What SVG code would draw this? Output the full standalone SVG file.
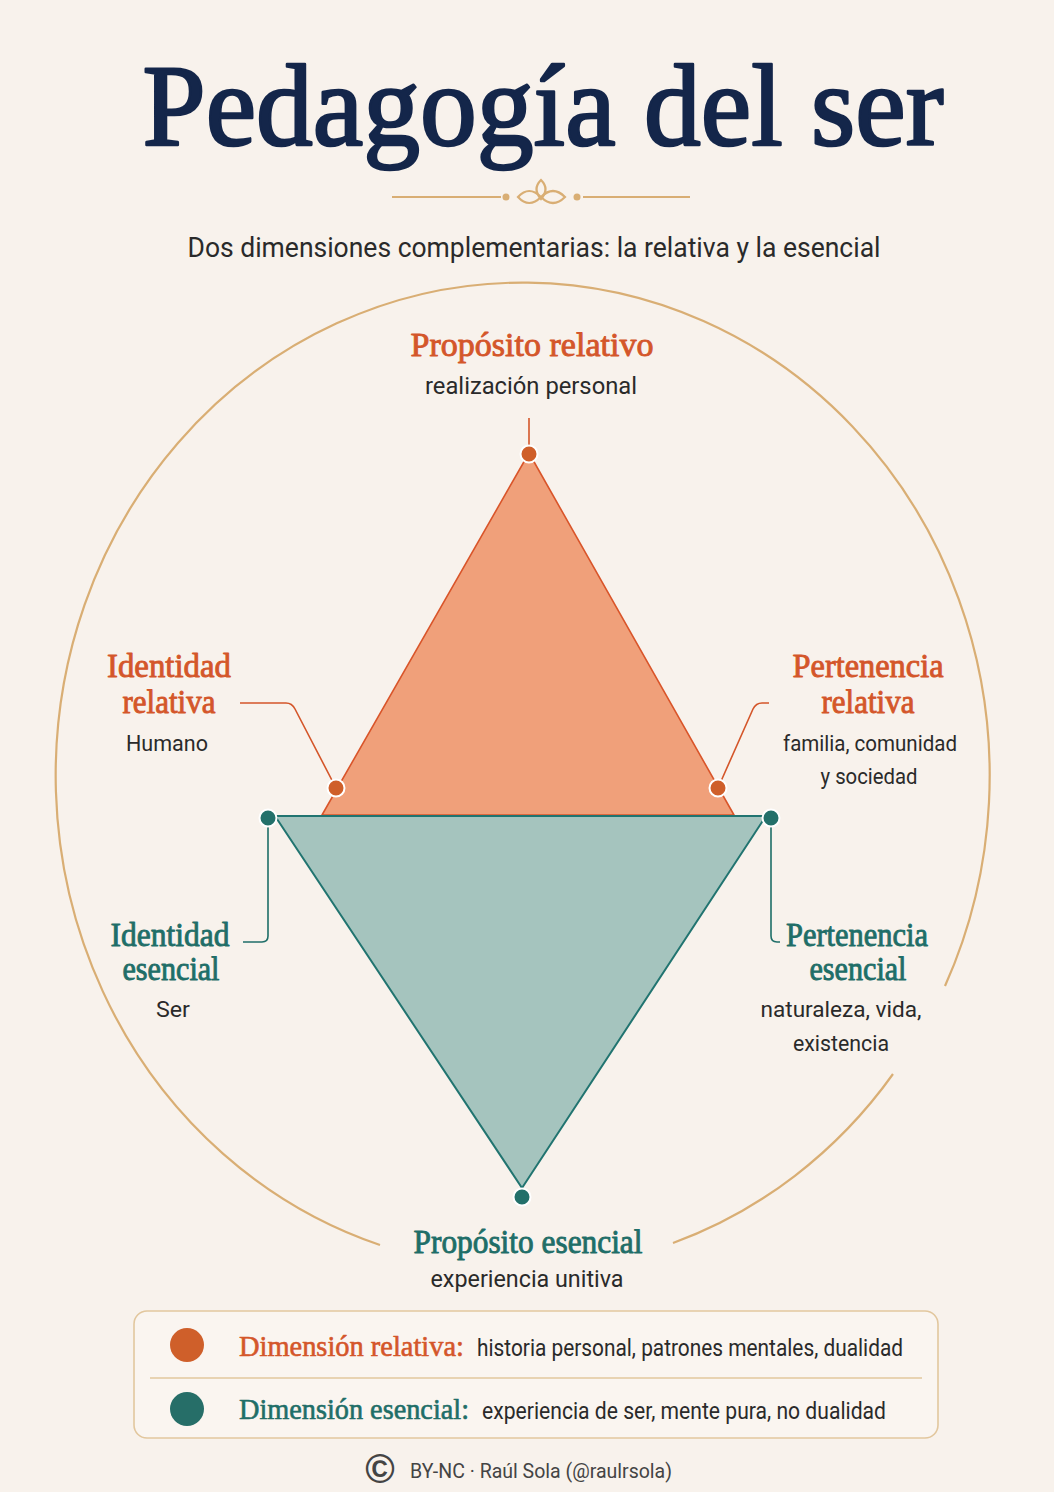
<svg xmlns="http://www.w3.org/2000/svg" width="1054" height="1492" viewBox="0 0 1054 1492">
<style>
.ser{font-family:"Liberation Serif","DejaVu Serif",serif;font-weight:normal;stroke-width:0.9;stroke-linejoin:round;}
.sans{font-family:Roboto,"Liberation Sans",sans-serif;fill:#2a2a2a;}
.o{fill:#D4562A;stroke:#D4562A;}
.t{fill:#1F6E68;stroke:#1F6E68;}
.lo{fill:none;stroke:#D4562A;stroke-width:1.6;}
.lt{fill:none;stroke:#1F6E68;stroke-width:1.6;}
.gold{fill:none;stroke:#D9AE74;stroke-width:2.2;}
.dotO{fill:#CF5F2A;stroke:#fff;stroke-width:2;}
.dotT{fill:#23706A;stroke:#fff;stroke-width:2;}
</style>
<rect x="0" y="0" width="1054" height="1492" fill="#F8F2EC"/>

<g id="title">
<text x="543" y="145" text-anchor="middle" class="ser" font-size="116" fill="#14264A" stroke="#14264A" style="stroke-width:2.6" textLength="801" lengthAdjust="spacingAndGlyphs">Pedagogía del ser</text>
<g id="ornament">
<line x1="392" y1="197" x2="501" y2="197" class="gold"/>
<line x1="583" y1="197" x2="690" y2="197" class="gold"/>
<circle cx="506" cy="197" r="3.5" fill="#D9AE74"/>
<circle cx="577" cy="197" r="3.5" fill="#D9AE74"/>
<path d="M518,197 Q529,185 541,197 Q529,209 518,197 Z" class="gold" stroke-width="1.8"/>
<path d="M541,197 Q553,185 565,197 Q553,209 541,197 Z" class="gold" stroke-width="1.8"/>
<path d="M541,180 Q550,189 541,199 Q532,189 541,180 Z" class="gold" stroke-width="1.8"/>
</g>
<text x="534" y="257" text-anchor="middle" class="sans" font-size="28" textLength="693" lengthAdjust="spacingAndGlyphs">Dos dimensiones complementarias: la relativa y la esencial</text>
</g>

<g id="frame">
<path d="M380,1245 A467,493 0 1 1 945,986" class="gold"/>
<path d="M893,1074 A467,493 0 0 1 673,1243" class="gold"/>
</g>

<g id="triangles">
<path d="M529,453 L322,815 L734,815 Z" fill="#F0A07A" stroke="#D9552A" stroke-width="1.6" stroke-linejoin="round"/>
<path d="M275,816 L766,816 L522,1188 Z" fill="#A5C4BE" stroke="#217470" stroke-width="2" stroke-linejoin="round"/>
</g>

<g id="connectors">
<line x1="529" y1="418" x2="529" y2="446" class="lo"/>
<path d="M240,703 L286,703 Q292,703 295,709 L336,788" class="lo"/>
<path d="M769,703 L762,703 Q756,703 753,709 L718,788" class="lo"/>
<path d="M268,818 L268,936 Q268,942 262,942 L243,942" class="lt"/>
<path d="M771,818 L771,936 Q771,942 777,942 L780,942" class="lt"/>
</g>

<g id="dots">
<circle cx="529" cy="454" r="8.5" class="dotO"/>
<circle cx="336" cy="788" r="8.5" class="dotO"/>
<circle cx="718" cy="788" r="8.5" class="dotO"/>
<circle cx="268" cy="818" r="8.5" class="dotT"/>
<circle cx="771" cy="818" r="8.5" class="dotT"/>
<circle cx="522" cy="1197" r="8.5" class="dotT"/>
</g>

<g id="node-proposito-relativo">
<text x="532" y="356" text-anchor="middle" class="ser o" font-size="34" textLength="243" lengthAdjust="spacingAndGlyphs">Propósito relativo</text>
<text x="531" y="394" text-anchor="middle" class="sans" font-size="24" textLength="212" lengthAdjust="spacingAndGlyphs">realización personal</text>
</g>

<g id="node-identidad-relativa">
<text x="169" y="677" text-anchor="middle" class="ser o" font-size="34" textLength="124" lengthAdjust="spacingAndGlyphs">Identidad</text>
<text x="169" y="713" text-anchor="middle" class="ser o" font-size="34" textLength="93" lengthAdjust="spacingAndGlyphs">relativa</text>
<text x="167" y="751" text-anchor="middle" class="sans" font-size="22" textLength="82" lengthAdjust="spacingAndGlyphs">Humano</text>
</g>

<g id="node-pertenencia-relativa">
<text x="868" y="677" text-anchor="middle" class="ser o" font-size="34" textLength="151" lengthAdjust="spacingAndGlyphs">Pertenencia</text>
<text x="868" y="713" text-anchor="middle" class="ser o" font-size="34" textLength="93" lengthAdjust="spacingAndGlyphs">relativa</text>
<text x="870" y="751" text-anchor="middle" class="sans" font-size="22" textLength="174" lengthAdjust="spacingAndGlyphs">familia, comunidad</text>
<text x="869" y="784" text-anchor="middle" class="sans" font-size="22" textLength="97" lengthAdjust="spacingAndGlyphs">y sociedad</text>
</g>

<g id="node-identidad-esencial">
<text x="170" y="946" text-anchor="middle" class="ser t" font-size="34" textLength="119" lengthAdjust="spacingAndGlyphs">Identidad</text>
<text x="171" y="980" text-anchor="middle" class="ser t" font-size="34" textLength="97" lengthAdjust="spacingAndGlyphs">esencial</text>
<text x="173" y="1017" text-anchor="middle" class="sans" font-size="22" textLength="34" lengthAdjust="spacingAndGlyphs">Ser</text>
</g>

<g id="node-pertenencia-esencial">
<text x="857" y="946" text-anchor="middle" class="ser t" font-size="34" textLength="142" lengthAdjust="spacingAndGlyphs">Pertenencia</text>
<text x="858" y="980" text-anchor="middle" class="ser t" font-size="34" textLength="97" lengthAdjust="spacingAndGlyphs">esencial</text>
<text x="841" y="1017" text-anchor="middle" class="sans" font-size="22" textLength="161" lengthAdjust="spacingAndGlyphs">naturaleza, vida,</text>
<text x="841" y="1051" text-anchor="middle" class="sans" font-size="22" textLength="96" lengthAdjust="spacingAndGlyphs">existencia</text>
</g>

<g id="node-proposito-esencial">
<text x="528" y="1253" text-anchor="middle" class="ser t" font-size="34" textLength="229" lengthAdjust="spacingAndGlyphs">Propósito esencial</text>
<text x="527" y="1287" text-anchor="middle" class="sans" font-size="24" textLength="193" lengthAdjust="spacingAndGlyphs">experiencia unitiva</text>
</g>

<g id="legend">
<rect x="134" y="1311" width="804" height="127" rx="13" fill="#FAF5F0" stroke="#E2C79E" stroke-width="1.6"/>
<line x1="150" y1="1378" x2="922" y2="1378" stroke="#E2C79E" stroke-width="1.5"/>
<circle cx="187" cy="1345" r="17" fill="#CF5F2A"/>
<circle cx="187" cy="1409" r="17" fill="#266E68"/>
<text x="239" y="1356" class="ser o" font-size="29" style="stroke-width:0.6" textLength="225" lengthAdjust="spacingAndGlyphs">Dimensión relativa:</text>
<text x="477" y="1356" class="sans" font-size="23" textLength="426" lengthAdjust="spacingAndGlyphs">historia personal, patrones mentales, dualidad</text>
<text x="239" y="1419" class="ser t" font-size="29" style="stroke-width:0.6" textLength="230" lengthAdjust="spacingAndGlyphs">Dimensión esencial:</text>
<text x="482" y="1419" class="sans" font-size="23" textLength="404" lengthAdjust="spacingAndGlyphs">experiencia de ser, mente pura, no dualidad</text>
</g>

<g id="footer">
<text x="380" y="1483" text-anchor="middle" font-family="Liberation Sans, sans-serif" font-weight="bold" font-size="40" fill="#444">©</text>
<text x="410" y="1478" class="sans" font-size="20" textLength="262" lengthAdjust="spacingAndGlyphs" style="fill:#444">BY-NC · Raúl Sola (@raulrsola)</text>
</g>
</svg>
